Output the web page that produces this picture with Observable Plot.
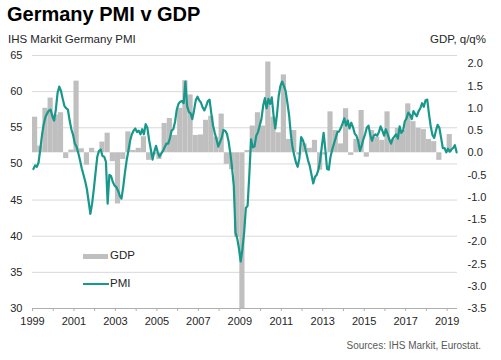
<!DOCTYPE html>
<html>
<head>
<meta charset="utf-8">
<script src="https://cdn.jsdelivr.net/npm/d3@7"></script>
<script src="https://cdn.jsdelivr.net/npm/@observablehq/plot@0.6"></script>
<style>
  html, body { margin: 0; padding: 0; background: #ffffff; }
  #wrap { position: relative; width: 501px; height: 360px; overflow: hidden;
          font-family: "Liberation Sans", Arial, sans-serif; color: #262626; }
  #wrap svg { position: absolute; left: 0; top: 0; }
  .t { position: absolute; white-space: nowrap; line-height: 1; }
  .sw { position: absolute; }
</style>
</head>
<body>
<div id="wrap">
  <div class="t" style="left:7px; top:4px; font-size:20px; font-weight:bold; color:#000;">Germany PMI v GDP</div>
  <div class="t" style="left:8px; top:34px; font-size:11.5px; color:#262626;">IHS Markit Germany PMI</div>
  <div class="t" style="right:15px; top:34px; font-size:11.5px; color:#262626;">GDP, q/q%</div>
  <div class="t" style="right:20px; top:341px; font-size:10px; color:#595959;">Sources: IHS Markit, Eurostat.</div>
</div>
<script>
// ---- Data ----
const startYear = 1999;
// IHS Markit Germany PMI, monthly from Jan 1999 to Jun 2019
const pmi = [
  49.3, 49.8, 49.6, 50.2, 52.0, 54.0, 55.5, 56.5, 57.0, 57.4, 57.5, 56.6,
  56.0, 57.5, 59.8, 60.7, 60.1, 59.0, 58.0, 57.7, 57.5, 56.0, 54.8, 54.0,
  52.8, 52.4, 51.5, 50.5, 49.4, 48.5, 47.6, 46.5, 44.8, 43.1, 44.5, 46.5,
  48.8, 51.0, 51.8, 52.0, 51.1, 51.0, 50.3, 44.5, 48.5, 48.3, 47.5, 47.0,
  46.8, 46.3, 45.6, 45.2, 46.8, 48.8, 50.5, 51.8, 53.2, 54.1, 54.6, 54.9,
  54.4, 54.6, 54.1, 54.8, 54.1, 55.5, 55.0, 53.3, 52.0, 50.6, 51.7, 52.5,
  51.6, 51.0, 51.4, 51.8, 52.3, 52.8, 52.8, 53.5, 54.6, 54.8, 55.8, 57.5,
  58.3, 58.6, 58.7, 58.4, 61.4, 58.0, 57.2, 57.0, 56.2, 57.4, 58.8, 59.3,
  58.8, 58.5, 57.8, 57.4, 58.0, 58.7, 58.9, 57.0, 55.3, 54.3, 53.4, 52.4,
  53.0, 53.6, 54.7, 54.6, 54.2, 53.1, 51.5, 49.5, 47.0, 40.5, 39.7, 38.3,
  36.5, 38.2, 40.5, 43.9, 44.2, 48.5, 53.4, 52.3, 52.4, 53.9, 54.4, 55.3,
  56.2, 58.0, 59.1, 57.7, 59.0, 58.3, 59.2, 56.8, 54.9, 56.8, 59.4, 60.8,
  61.4, 60.8, 60.1, 58.5, 56.8, 54.2, 52.3, 51.2, 50.2, 49.6, 50.8, 53.7,
  53.3, 52.5, 51.5, 50.5, 49.7, 48.5, 47.3, 48.2, 48.5, 49.2, 50.5, 52.5,
  54.3, 52.0, 49.3, 49.2, 51.0, 52.0, 52.8, 53.6, 54.4, 54.5, 55.0, 55.6,
  56.3, 55.3, 56.0, 54.9, 55.7, 55.1, 54.2, 53.9, 53.2, 51.8, 52.5, 53.4,
  54.1, 55.0, 55.3, 54.0, 53.2, 53.9, 54.1, 53.9, 54.4, 55.2, 54.6, 53.9,
  54.8, 54.2, 53.4, 52.8, 53.5, 53.8, 54.1, 53.5, 55.2, 54.3, 54.6, 55.9,
  56.3, 57.1, 56.8, 56.2, 57.3, 56.9, 56.6, 57.3, 57.7, 58.4, 57.9, 58.8,
  58.9, 56.9, 55.2, 54.0, 53.6, 54.6, 55.4, 55.0, 53.6, 52.2, 52.2, 51.6,
  52.1, 51.7, 52.0, 52.2, 52.6, 51.6
];
// GDP q/q %, quarterly from 1999 Q1 to 2019 Q1
const gdp = [
  0.80, 0.15, 1.00, 1.23,
  0.85, 0.90, -0.13, 0.06,
  1.61, 0.09, -0.28, 0.10,
  0.02, 0.24, 0.44, -0.20,
  -1.15, -0.15, 0.47, 0.05,
  0.10, 0.36, -0.17, -0.05,
  -0.15, 0.66, 0.77, 0.39,
  1.00, 1.62, 1.30, 0.39,
  0.40, 0.73, 0.82, 0.35,
  0.87, -0.26, -0.38, -1.90,
  -4.70, 0.05, 0.60, 0.90,
  0.60, 2.04, 0.80, 0.45,
  1.75, 0.30, 0.50, -0.05,
  0.20, 0.10, 0.28, -0.39,
  -0.05, 0.92, 0.50, 0.20,
  0.99, -0.06, 0.30, 0.95,
  -0.10, 0.50, 0.35, 0.28,
  0.92, 0.30, 0.55, 0.50,
  1.10, 0.70, 0.55, 0.52,
  0.30, 0.25, -0.17, 0.00,
  0.41
];
const yearLabels = ["1999","2001","2003","2005","2007","2009","2011","2013","2015","2017","2019"];
const pmiTicks = [30, 35, 40, 45, 50, 55, 60, 65];
const gdpTicks = [-3.5, -3.0, -2.5, -2.0, -1.5, -1.0, -0.5, 0.0, 0.5, 1.0, 1.5, 2.0];
const seriesNames = ["GDP", "PMI"];

// ---- Dual-axis mapping: GDP (right axis) onto PMI (left axis) scale ----
const gdpMin = -3.5, pmiMin = 30, ratio = 6.155;
const toP = g => pmiMin + (g - gdpMin) * ratio;
const fromP = p => (p - pmiMin) / ratio + gdpMin;

const nMonths = pmi.length;
const pmiData = pmi.map((v, i) => ({x: i + 0.5, v}));
const gdpData = gdp.map((g, i) => ({x1: i * 3, x2: i * 3 + 3, p0: toP(0), p: toP(g)}));
const yearTicks = d3.range(0, nMonths + 1, 12);
const labelTicks = yearLabels.map(y => (+y - startYear) * 12);

const teal = "#17988b";
const gray = "#bfbfbf";

const chart = Plot.plot({
  width: 501,
  height: 360,
  marginLeft: 32,
  marginRight: 44,
  marginTop: 55,
  marginBottom: 52,
  style: {fontFamily: '"Liberation Sans", Arial, sans-serif', fontSize: "11px", color: "#333333", background: "transparent", overflow: "visible"},
  x: {domain: [0, nMonths], axis: null},
  y: {domain: [30, 65], axis: null},
  marks: [
    Plot.gridY(pmiTicks.filter(t => t > 30), {stroke: "#d9d9d9", strokeOpacity: 1, strokeWidth: 1}),
    Plot.rect(gdpData, {x1: "x1", x2: "x2", y1: "p0", y2: "p", fill: gray, clip: true}),
    Plot.ruleY([30], {stroke: "#b0b0b0", strokeWidth: 1}),
    Plot.axisX(yearTicks, {anchor: "bottom", tickSize: 3, tickFormat: () => "", stroke: "#b0b0b0"}),
    Plot.axisX(labelTicks, {anchor: "bottom", tickSize: 0, tickPadding: 9, tickFormat: d => yearLabels[labelTicks.indexOf(d)], fill: "#262626", fontSize: 11}),
    Plot.axisY(pmiTicks, {anchor: "left", tickSize: 0, tickPadding: 10, fill: "#262626", fontSize: 11}),
    Plot.axisY(gdpTicks.map(toP), {anchor: "right", tickSize: 0, tickPadding: 10, fill: "#262626", fontSize: 11,
      tickFormat: d => (Math.round(fromP(d) * 10) / 10 + 0).toFixed(1)}),
    Plot.line(pmiData, {x: "x", y: "v", stroke: teal, strokeWidth: 2.2, strokeLinejoin: "round"})
  ]
});
const wrap = document.getElementById("wrap");
wrap.insertBefore(chart, wrap.firstChild);

// ---- Legend (inside plot area, lower left) ----
function addLegend(name, i) {
  const sw = document.createElement("div");
  sw.className = "sw";
  if (name === "GDP") {
    Object.assign(sw.style, {left: "83px", top: "254px", width: "25px", height: "5px", background: gray});
  } else {
    Object.assign(sw.style, {left: "83px", top: "282.5px", width: "26px", height: "2.4px", background: teal});
  }
  wrap.appendChild(sw);
  const t = document.createElement("div");
  t.className = "t";
  t.textContent = name;
  Object.assign(t.style, {left: "110px", top: (i === 0 ? 250 : 277.5) + "px", fontSize: "11.5px", color: "#262626"});
  wrap.appendChild(t);
}
seriesNames.forEach(addLegend);
</script>
</body>
</html>
